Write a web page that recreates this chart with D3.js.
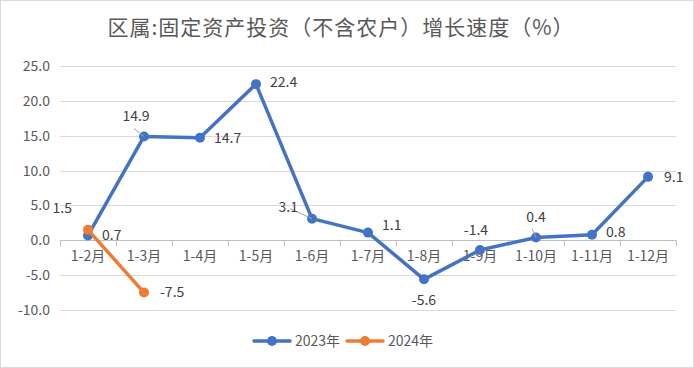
<!DOCTYPE html>
<html><head><meta charset="utf-8">
<script src="https://cdn.jsdelivr.net/npm/d3@7"></script>
<style>body{margin:0;background:#fff}svg{display:block}</style>
</head><body>
<script>
const categories = ["1-2月","1-3月","1-4月","1-5月","1-6月","1-7月","1-8月","1-9月","1-10月","1-11月","1-12月"];
const values2023 = [0.7,14.9,14.7,22.4,3.1,1.1,-5.6,-1.4,0.4,0.8,9.1];
const values2024 = [1.5,-7.5];
const yTicks = [25,20,15,10,5,0,-5,-10];
const seriesNames = ["2023年","2024年"];
const colors = ["#4472C4","#ED7D31"];
// label placement offsets (dx, dy, anchor) per point
const labelPos2023 = [[14,0,"start"],[-8,-20,"middle"],[14,0,"start"],[14,-2,"start"],[-14,-12,"end"],[14,-8,"start"],[0,21,"middle"],[-4,-20,"middle"],[0,-20,"middle"],[14,-3,"start"],[16,0,"start"]];
const labelPos2024 = [[-16,-22,"end"],[16,0,"start"]];

const W=694,H=368;
const svg=d3.select("body").append("svg").attr("width",W).attr("height",H);
svg.append("rect").attr("x",0.5).attr("y",0.5).attr("width",W-1).attr("height",H-1).attr("fill","#fff").attr("stroke","#d9d9d9");

const font="'Noto Sans CJK SC','Noto Sans',sans-serif";
const fmt=v=>v.toFixed(1);
svg.append("text").attr("x",341).attr("y",35).attr("text-anchor","middle")
  .attr("font-family",font).attr("font-size",21).attr("letter-spacing",1).attr("fill","#595959")
  .text("区属:固定资产投资（不含农户）增长速度（%）");

const x=d3.scaleBand().domain(categories).range([60,676]);
const y=d3.scaleLinear().domain([-10,25]).range([310,66]);

// gridlines
svg.append("g").selectAll("line").data(yTicks).join("line")
  .attr("x1",60).attr("x2",676).attr("y1",d=>Math.round(y(d))+0.5).attr("y2",d=>Math.round(y(d))+0.5)
  .attr("stroke",d=>d===0?"#bfbfbf":"#d9d9d9").attr("stroke-width",1);
// y labels
const yAxis=d3.axisLeft(y).tickValues(yTicks).tickFormat(fmt).tickSize(0).tickPadding(10);
const ga=svg.append("g").attr("transform","translate(60,0)").call(yAxis);
ga.select(".domain").remove();
ga.selectAll("text").attr("font-family",font).attr("font-size",14).attr("fill","#595959");

// category tick marks at band boundaries
const bounds=categories.map(c=>x(c)).concat([x.range()[1]]);
svg.append("g").selectAll("line").data(bounds).join("line")
  .attr("x1",d=>Math.round(d)+0.5).attr("x2",d=>Math.round(d)+0.5)
  .attr("y1",y(0)).attr("y2",y(0)+6).attr("stroke","#bfbfbf");
// x labels
const xAxis=d3.axisBottom(x).tickSize(0).tickPadding(11);
const gx=svg.append("g").attr("transform",`translate(0,${y(0)})`).call(xAxis);
gx.select(".domain").remove();
gx.selectAll("text").attr("font-family",font).attr("font-size",14).attr("fill","#595959");

const cx=c=>x(c)+x.bandwidth()/2;
const line=d3.line().x((d,i)=>cx(categories[i])).y(d=>y(d));

function drawSeries(vals,color){
  const g=svg.append("g");
  g.append("path").datum(vals).attr("d",line).attr("fill","none").attr("stroke",color).attr("stroke-width",3.5).attr("stroke-linejoin","round").attr("stroke-linecap","round");
  g.selectAll("circle").data(vals).join("circle").attr("cx",(d,i)=>cx(categories[i])).attr("cy",d=>y(d)).attr("r",5).attr("fill",color);
  return g;
}
drawSeries(values2023,colors[0]);
drawSeries(values2024,colors[1]);

// leader lines
const leaders=[[1,-10,-8],[4,-22,-10],[8,-4,-9]];
svg.append("g").selectAll("line").data(leaders).join("line")
  .attr("x1",d=>cx(categories[d[0]])+d[1]).attr("y1",d=>y(values2023[d[0]])+d[2])
  .attr("x2",d=>cx(categories[d[0]])).attr("y2",d=>y(values2023[d[0]]))
  .attr("stroke","#a6a6a6").attr("stroke-width",1);

function labels(vals,pos){
  svg.append("g").selectAll("text").data(vals).join("text")
    .attr("x",(d,i)=>cx(categories[i])+pos[i][0]).attr("y",(d,i)=>y(d)+pos[i][1])
    .attr("dy","0.35em").attr("text-anchor",(d,i)=>pos[i][2])
    .attr("font-family",font).attr("font-size",14).attr("fill","#404040")
    .text(d=>fmt(d));
}
labels(values2023,labelPos2023);
labels(values2024,labelPos2024);

// legend
const lg=svg.append("g").attr("transform","translate(254,341)");
const items=lg.selectAll("g").data(seriesNames).join("g").attr("transform",(d,i)=>`translate(${i*93},0)`);
items.append("line").attr("x1",0).attr("x2",36).attr("stroke",(d,i)=>colors[i]).attr("stroke-width",3.5).attr("stroke-linecap","round");
items.append("circle").attr("cx",18).attr("r",5).attr("fill",(d,i)=>colors[i]);
items.append("text").attr("x",41).attr("dy","0.35em").attr("font-family",font).attr("font-size",14).attr("fill","#595959").text(d=>d);
</script>
</body></html>
